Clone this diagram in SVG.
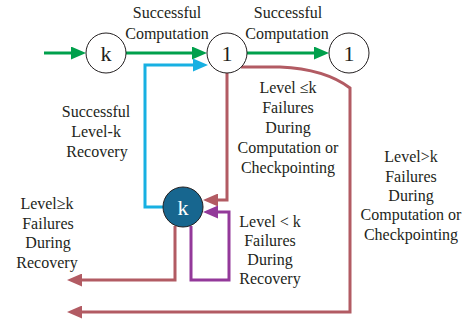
<svg xmlns="http://www.w3.org/2000/svg" width="465" height="322" viewBox="0 0 465 322" font-family="Liberation Serif, serif">
<style>
text{font-size:16px;fill:#231f20;text-anchor:middle}
.n{font-size:22px}
.node{fill:#fff;stroke:#231f20;stroke-width:1}
.dark{fill:#17668f;stroke:#231f20;stroke-width:1}
.c{fill:none;stroke-width:3}
.g{stroke:#00a04c}.cy{stroke:#17b0e2}.r{stroke:#b25b63}.p{stroke:#93399a}
</style>
<defs>
<marker id="ag" markerUnits="userSpaceOnUse" markerWidth="15" markerHeight="13" refX="3" refY="6.5" orient="auto"><path d="M0,0 L15,6.5 L0,13 z" fill="#00a04c"/></marker>
<marker id="ac" markerUnits="userSpaceOnUse" markerWidth="15" markerHeight="13" refX="3" refY="6.5" orient="auto"><path d="M0,0 L15,6.5 L0,13 z" fill="#17b0e2"/></marker>
<marker id="ar" markerUnits="userSpaceOnUse" markerWidth="15" markerHeight="13" refX="3" refY="6.5" orient="auto"><path d="M0,0 L15,6.5 L0,13 z" fill="#b25b63"/></marker>
<marker id="ap" markerUnits="userSpaceOnUse" markerWidth="15" markerHeight="13" refX="3" refY="6.5" orient="auto"><path d="M0,0 L15,6.5 L0,13 z" fill="#93399a"/></marker>
</defs>
<g id="connectors">
<path class="c g" d="M44,53 L74,53" marker-end="url(#ag)"/>
<path class="c g" d="M126,53 L195,53" marker-end="url(#ag)"/>
<path class="c g" d="M247,53 L317,53" marker-end="url(#ag)"/>
<path class="c cy" d="M163,207 L145,207 L145,65 L196,65" marker-end="url(#ac)"/>
<path class="c r" d="M227,73 L227,200 L215,200" marker-end="url(#ar)"/>
<path class="c p" d="M191,226 L191,280 L229,280 L229,212 L215,212" marker-end="url(#ap)"/>
<path class="c r" d="M175,226 L175,280 L79,280" marker-end="url(#ar)"/>
<path class="c r" d="M241,67 L280,67 Q325,69 350,88 L350,312 L79,312" marker-end="url(#ar)"/>
</g>
<g id="node-k-start"><circle class="node" cx="106" cy="53" r="20"/><text class="n" x="106" y="61">k</text></g>
<g id="node-1-mid"><circle class="node" cx="227" cy="53" r="20"/><text class="n" x="227" y="61">1</text></g>
<g id="node-1-end"><circle class="node" cx="349" cy="53" r="20"/><text class="n" x="349" y="61">1</text></g>
<g id="node-k-recovery"><circle class="dark" cx="183" cy="207" r="20"/><text class="n" x="183" y="215" style="fill:#fff">k</text></g>
<g id="labels">
<text x="167" y="18">Successful</text><text x="167" y="39">Computation</text>
<text x="288" y="18">Successful</text><text x="287" y="39">Computation</text>
<text x="288" y="93">Level ≤k</text><text x="288" y="113">Failures</text><text x="288" y="133">During</text><text x="288" y="153">Computation or</text><text x="288" y="173">Checkpointing</text>
<text x="411" y="162">Level&gt;k</text><text x="411" y="182">Failures</text><text x="411" y="201">During</text><text x="411" y="220">Computation or</text><text x="411" y="240">Checkpointing</text>
<text x="96" y="117">Successful</text><text x="96" y="137">Level-k</text><text x="97" y="157">Recovery</text>
<text x="47" y="209">Level≥k</text><text x="48" y="229">Failures</text><text x="48" y="248">During</text><text x="47" y="268">Recovery</text>
<text x="270" y="227">Level &lt; k</text><text x="270" y="246">Failures</text><text x="270" y="265">During</text><text x="270" y="284">Recovery</text>
</g>
</svg>
